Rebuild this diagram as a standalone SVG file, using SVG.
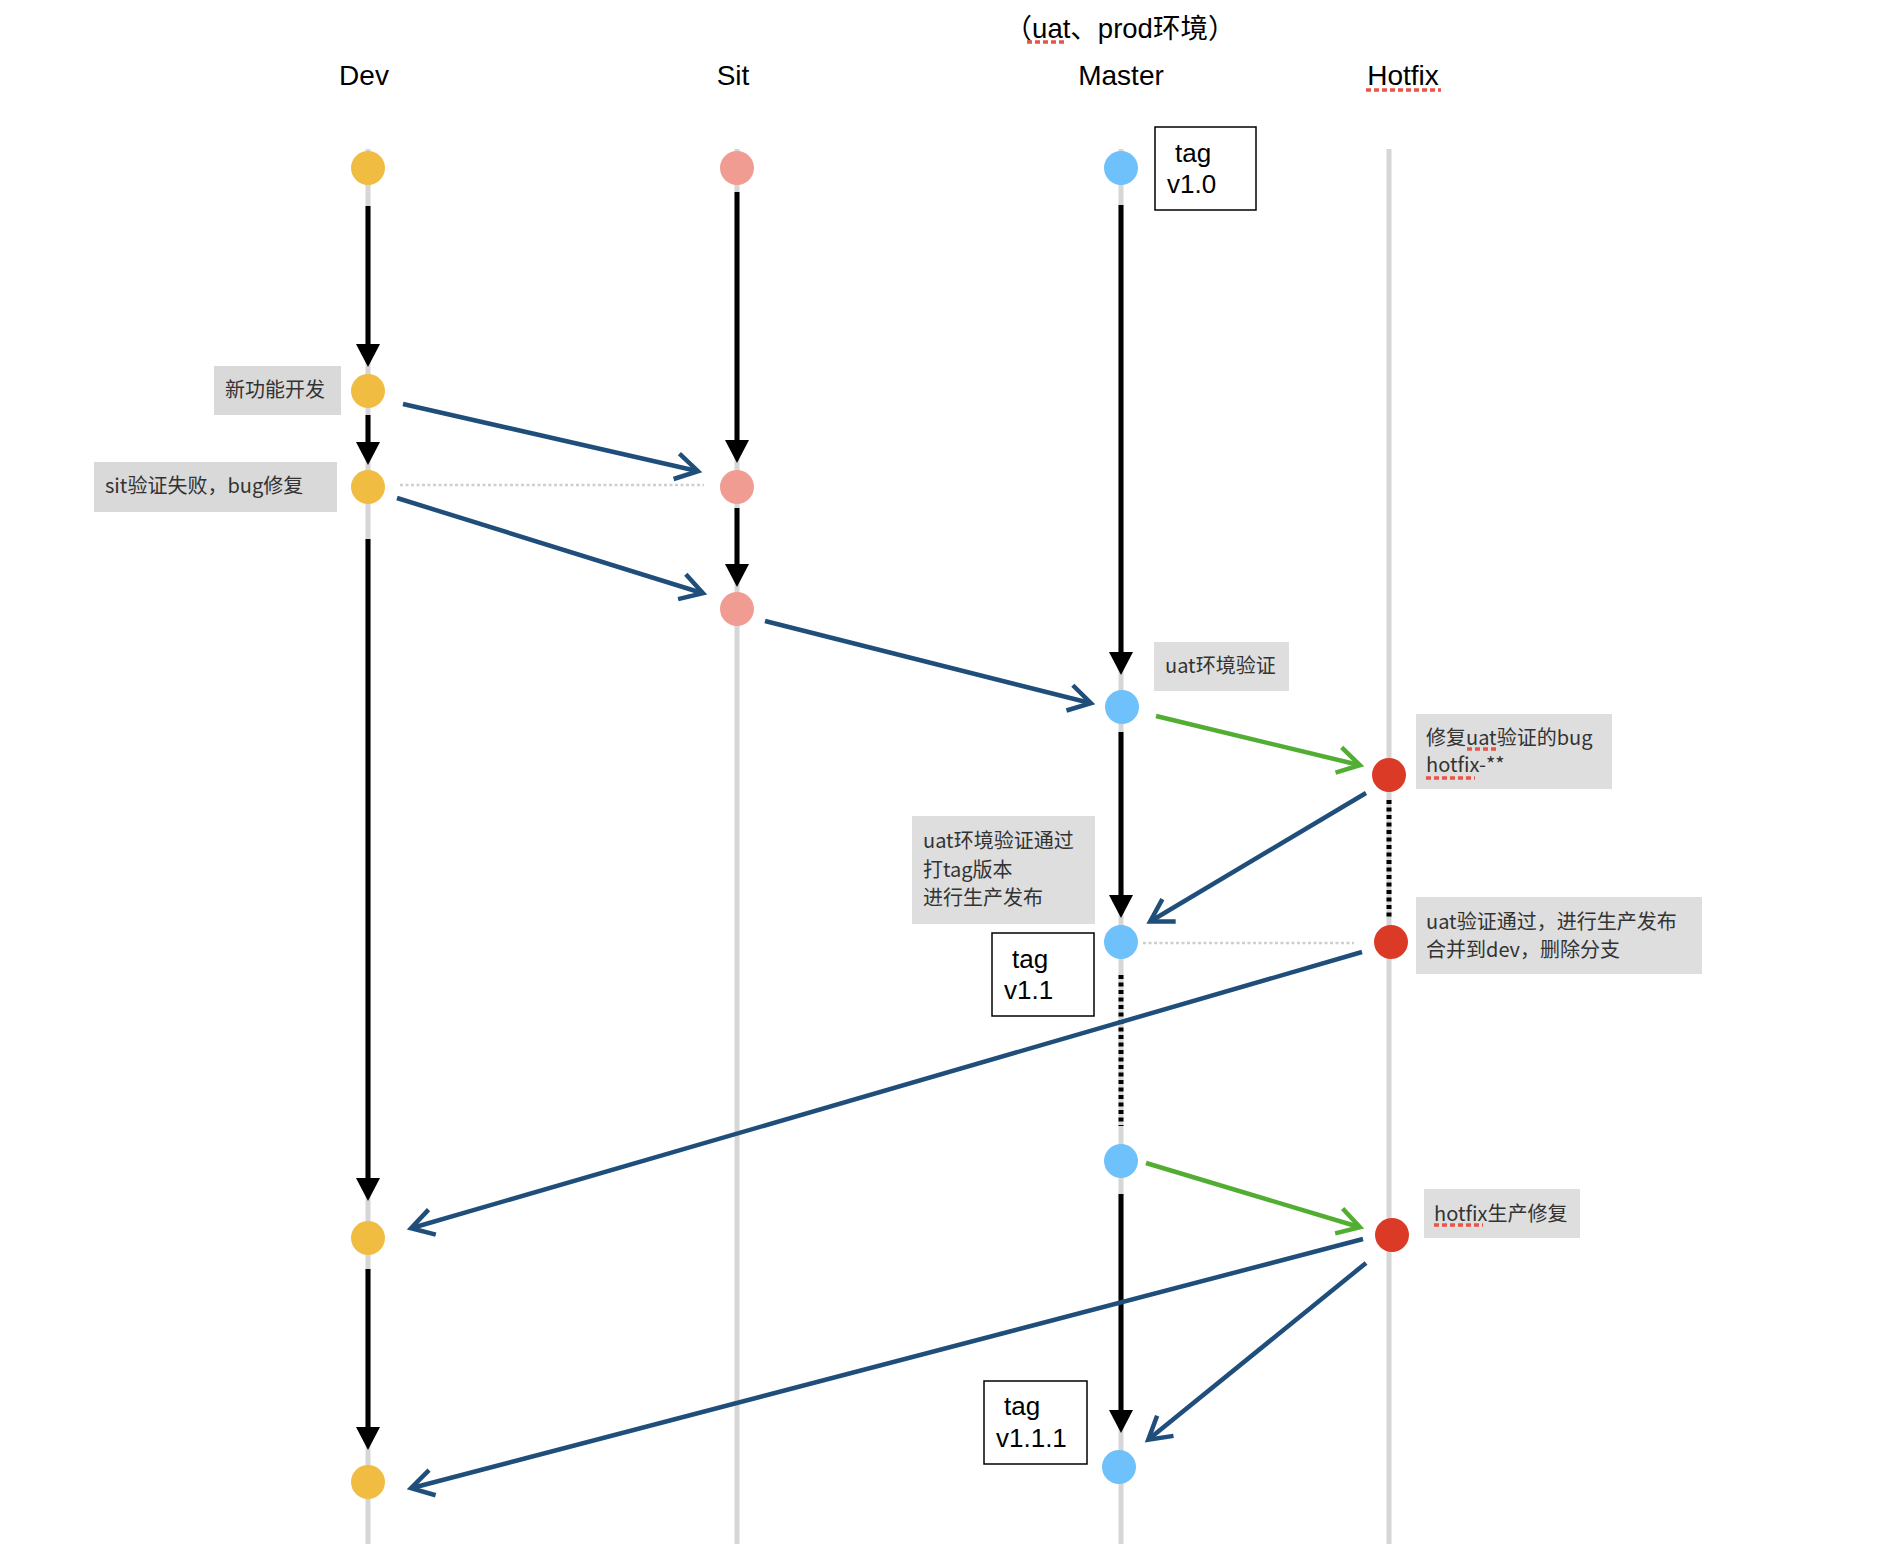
<svg xmlns="http://www.w3.org/2000/svg" width="1894" height="1544" viewBox="0 0 1894 1544">
<style>
.lane{stroke:#d6d6d6;stroke-width:5;fill:none}
.blk{stroke:#000;stroke-width:5;fill:none;marker-end:url(#ahb)}
.dotb{stroke:#000;stroke-width:5;fill:none;stroke-dasharray:4 3.5}
.dotg{stroke:#cfcfcf;stroke-width:2.5;fill:none;stroke-dasharray:3 2.5}
.blue{stroke:#1f4e7b;stroke-width:4.5;fill:none;marker-end:url(#ahblue)}
.green{stroke:#52ae32;stroke-width:4.5;fill:none;marker-end:url(#ahgreen)}
.dev{fill:#f0bc42}.sit{fill:#f09c92}.mst{fill:#6ec1fb}.hot{fill:#db3a26}
.hdr{font-family:"Liberation Sans","Noto Sans CJK SC",sans-serif;font-size:28px;fill:#000;text-anchor:middle}
.ttl{font-family:"Liberation Sans","Noto Sans CJK SC",sans-serif;font-size:27.5px;fill:#000;text-anchor:middle}
.lbl{fill:#d9d9d9}
.lblr{fill:#dedede}
.lt{font-family:"Noto Sans CJK SC",sans-serif;font-size:20px;fill:#333}
.tagb{fill:#fff;stroke:#000;stroke-width:1.5}
.tagt{font-family:"Liberation Sans",sans-serif;font-size:26px;fill:#000}
.spell{stroke:#e8564a;stroke-width:3.5;stroke-dasharray:5 3;fill:none}
</style>
<defs>
<marker id="ahb" markerUnits="userSpaceOnUse" markerWidth="24" markerHeight="24" viewBox="0 0 23 24" refX="9" refY="12" orient="auto"><path d="M0,0 L23,12 L0,24 z" fill="#000"/></marker>
<marker id="ahblue" markerUnits="userSpaceOnUse" markerWidth="34" markerHeight="36" viewBox="-4 -5 34 36" refX="21" refY="13" orient="auto"><path d="M0,0 L22,13 L0,26" fill="none" stroke="#1f4e7b" stroke-width="4.5"/></marker>
<marker id="ahgreen" markerUnits="userSpaceOnUse" markerWidth="34" markerHeight="36" viewBox="-4 -5 34 36" refX="21" refY="13" orient="auto"><path d="M0,0 L22,13 L0,26" fill="none" stroke="#52ae32" stroke-width="4.5"/></marker>
</defs>
<rect width="1894" height="1544" fill="#fff"/>

<g id="headers">
<text class="ttl" x="1120" y="38">（uat、prod环境）</text>
<line class="spell" x1="1027" y1="42" x2="1066" y2="42"/>
<text class="hdr" x="364" y="85">Dev</text>
<text class="hdr" x="733" y="85">Sit</text>
<text class="hdr" x="1121" y="85">Master</text>
<text class="hdr" x="1403" y="85">Hotfix</text>
<line class="spell" x1="1366" y1="90" x2="1441" y2="90"/>
</g>

<g id="lanes">
<line class="lane" x1="368" y1="149" x2="368" y2="1544"/>
<line class="lane" x1="737" y1="149" x2="737" y2="1544"/>
<line class="lane" x1="1121" y1="149" x2="1121" y2="1544"/>
<line class="lane" x1="1389" y1="149" x2="1389" y2="1544"/>
</g>

<g id="connectors">
<line class="blk" x1="368" y1="206" x2="368" y2="353"/>
<line class="blk" x1="368" y1="415" x2="368" y2="451"/>
<line class="blk" x1="368" y1="539" x2="368" y2="1187"/>
<line class="blk" x1="368" y1="1269" x2="368" y2="1436"/>
<line class="blk" x1="737" y1="192" x2="737" y2="449"/>
<line class="blk" x1="737" y1="508" x2="737" y2="573"/>
<line class="blk" x1="1121" y1="205" x2="1121" y2="661"/>
<line class="blk" x1="1121" y1="732" x2="1121" y2="904"/>
<line class="blk" x1="1121" y1="1194" x2="1121" y2="1419"/>
<line class="dotb" x1="1121" y1="975" x2="1121" y2="1126"/>
<line class="dotb" x1="1389" y1="800" x2="1389" y2="920"/>
<line class="dotg" x1="400" y1="485" x2="704" y2="485"/>
<line class="dotg" x1="1143" y1="943" x2="1354" y2="943"/>
<line class="blue" x1="403" y1="404" x2="697" y2="471"/>
<line class="blue" x1="397" y1="498" x2="702" y2="593"/>
<line class="blue" x1="765" y1="621" x2="1090" y2="703"/>
<line class="green" x1="1156" y1="716" x2="1359" y2="765"/>
<line class="blue" x1="1366" y1="793" x2="1151" y2="921"/>
<line class="blue" x1="1362" y1="952" x2="412" y2="1228"/>
<line class="green" x1="1146" y1="1163" x2="1359" y2="1227"/>
<line class="blue" x1="1363" y1="1239" x2="412" y2="1488"/>
<line class="blue" x1="1366" y1="1263" x2="1149" y2="1439"/>
</g>

<g id="dev-1"><circle class="dev" cx="368" cy="168" r="17"/></g>
<g id="dev-2"><circle class="dev" cx="368" cy="391" r="17"/></g>
<g id="dev-3"><circle class="dev" cx="368" cy="487" r="17"/></g>
<g id="dev-4"><circle class="dev" cx="368" cy="1238" r="17"/></g>
<g id="dev-5"><circle class="dev" cx="368" cy="1482" r="17"/></g>
<g id="sit-1"><circle class="sit" cx="737" cy="168" r="17"/></g>
<g id="sit-2"><circle class="sit" cx="737" cy="487" r="17"/></g>
<g id="sit-3"><circle class="sit" cx="737" cy="609" r="17"/></g>
<g id="master-1"><circle class="mst" cx="1121" cy="168" r="17"/></g>
<g id="master-2"><circle class="mst" cx="1122" cy="707" r="17"/></g>
<g id="master-3"><circle class="mst" cx="1121" cy="942" r="17"/></g>
<g id="master-4"><circle class="mst" cx="1121" cy="1161" r="17"/></g>
<g id="master-5"><circle class="mst" cx="1119" cy="1467" r="17"/></g>
<g id="hotfix-1"><circle class="hot" cx="1389" cy="775" r="17"/></g>
<g id="hotfix-2"><circle class="hot" cx="1391" cy="942" r="17"/></g>
<g id="hotfix-3"><circle class="hot" cx="1392" cy="1235" r="17"/></g>

<g id="label-new-feature">
<rect class="lbl" x="214" y="366" width="127" height="49"/>
<text class="lt" x="225" y="397">新功能开发</text>
</g>
<g id="label-sit-fail">
<rect class="lbl" x="94" y="462" width="243" height="50"/>
<text class="lt" x="105" y="493">sit验证失败，bug修复</text>
</g>
<g id="label-uat">
<rect class="lblr" x="1154" y="642" width="135" height="49"/>
<text class="lt" x="1165" y="673">uat环境验证</text>
</g>
<g id="label-fix-uat">
<rect class="lblr" x="1416" y="714" width="196" height="75"/>
<text class="lt"><tspan x="1426" y="745">修复uat验证的bug</tspan><tspan x="1426" y="772">hotfix-**</tspan></text>
<line class="spell" x1="1467" y1="749" x2="1496" y2="749"/>
<line class="spell" x1="1426" y1="778" x2="1475" y2="778"/>
</g>
<g id="label-uat-pass">
<rect class="lblr" x="912" y="816" width="183" height="108"/>
<text class="lt"><tspan x="923" y="848">uat环境验证通过</tspan><tspan x="923" y="877">打tag版本</tspan><tspan x="923" y="905">进行生产发布</tspan></text>
</g>
<g id="label-merge">
<rect class="lblr" x="1416" y="897" width="286" height="77"/>
<text class="lt"><tspan x="1426" y="929">uat验证通过，进行生产发布</tspan><tspan x="1426" y="957">合并到dev，删除分支</tspan></text>
</g>
<g id="label-prod-fix">
<rect class="lblr" x="1424" y="1189" width="156" height="49"/>
<text class="lt" x="1434" y="1221">hotfix生产修复</text>
<line class="spell" x1="1434" y1="1225" x2="1483" y2="1225"/>
</g>

<g id="tag-v1-0">
<rect class="tagb" x="1155" y="127" width="101" height="83"/>
<text class="tagt"><tspan x="1175" y="162">tag</tspan><tspan x="1167" y="193">v1.0</tspan></text>
</g>
<g id="tag-v1-1">
<rect class="tagb" x="992" y="933" width="102" height="83"/>
<text class="tagt"><tspan x="1012" y="968">tag</tspan><tspan x="1004" y="999">v1.1</tspan></text>
</g>
<g id="tag-v1-1-1">
<rect class="tagb" x="984" y="1381" width="103" height="83"/>
<text class="tagt"><tspan x="1004" y="1415">tag</tspan><tspan x="996" y="1447">v1.1.1</tspan></text>
</g>
</svg>
